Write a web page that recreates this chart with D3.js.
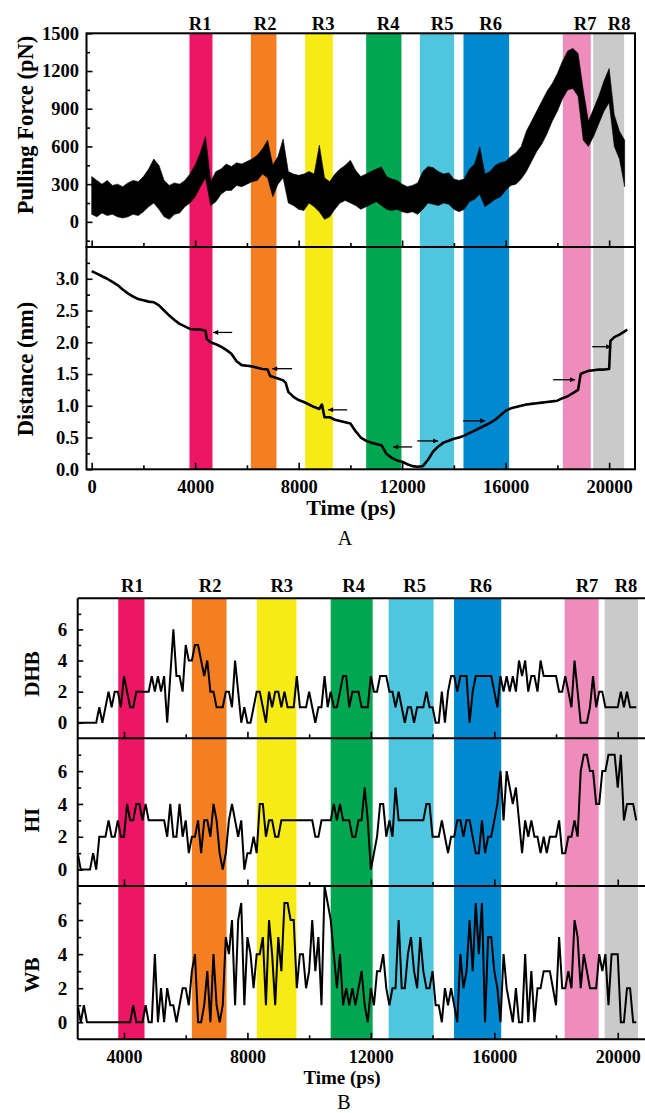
<!DOCTYPE html>
<html><head><meta charset="utf-8">
<script src="https://cdn.jsdelivr.net/npm/d3@7"></script>
<style>
body{margin:0;background:#fff}
svg{display:block}
text{font-family:"Liberation Serif","Times New Roman",serif;font-weight:bold;fill:#000}
</style>
</head><body>
<svg id="c" width="645" height="1113"></svg>
<script>
// ---------------- DATA ----------------
const regionNames = ["R1","R2","R3","R4","R5","R6","R7","R8"];
const regionColors = ["#ED1566","#F47F22","#F6EB14","#00A651","#4FC5DE","#0089CF","#EE8DBC","#CACACA"];
// Panel A region bands (ps)
const bandStartA = [3780,6153,8251,10609,12684,14370,18211,19382];
const bandEndA   = [4669,7142,9322,11973,14010,16135,19292,20580];
const labelTimeA = [4193,6705,8947,11459,13546,15420,19072,20386];
// Panel B region bands (ps)
const bandStartB = [3814,6200,8304,10698,12576,14693,18279,19575];
const bandEndB   = [4665,7323,9589,12058,14032,16224,19380,20655];
const labelTimeB = [4272,6790,9113,11443,13417,15560,19006,20268];

// Pulling force trace envelope, every 200 ps from 0 to 20600 (pN)
const forceTime = d3.range(0, 20601, 200);
const forceLow = [60,40,70,50,60,40,30,40,60,50,
  80,120,150,100,40,20,60,70,120,150,
  200,280,350,130,160,220,250,250,290,280,
  300,320,330,380,350,200,300,350,150,130,
  100,90,150,120,80,20,40,100,150,170,
  150,130,100,120,140,160,130,100,90,100,
  80,70,80,60,100,150,140,130,150,140,
  100,80,100,160,180,220,120,150,180,200,
  250,290,300,340,400,480,560,620,700,800,
  880,980,1050,1060,1000,650,600,680,780,880,
  950,600,500,280];
const forceHigh = [360,330,300,330,290,300,280,310,330,320,
  360,420,500,450,330,290,310,300,330,380,
  450,550,680,320,400,420,460,440,470,460,
  480,500,530,580,650,450,520,660,400,380,
  370,380,400,380,610,350,320,380,420,450,
  490,410,360,380,400,420,437,360,340,330,
  300,280,290,310,400,440,430,400,380,390,
  340,330,340,420,460,597,380,400,450,470,
  480,520,550,600,720,800,880,960,1040,1100,
  1180,1280,1360,1380,1340,1050,800,900,1000,1120,
  1220,850,720,650];

// Distance trace (nm)
const distTime = [0,200,400,600,800,1000,1200,1400,1600,1800,2000,2200,2400,2600,2800,3000,3200,3400,3600,3800,4000,4200,4400,4450,
  4600,4800,5000,5200,5400,5600,5800,6000,6200,6400,6600,6800,6900,7200,7400,7500,7600,7800,8000,8200,8400,8600,8800,8900,
  9000,9200,9400,9600,9800,10000,10200,10400,10600,10800,11000,11200,11400,11600,11800,12000,12200,12400,12600,12800,13000,
  13200,13400,13600,13800,14000,14200,14400,14600,14800,15000,15200,15400,15600,15800,16000,16200,16400,16600,16800,17000,
  17200,17400,17600,17800,18000,18200,18400,18600,18800,18900,19000,19200,19400,19600,19800,20000,20050,20200,20400,20600,20700];
const distValue = [3.12,3.08,3.04,3.0,2.95,2.9,2.83,2.77,2.72,2.68,2.66,2.64,2.63,2.58,2.5,2.42,2.35,2.29,2.25,2.21,2.2,2.2,2.18,2.05,
  2.0,1.97,1.93,1.88,1.82,1.7,1.64,1.63,1.62,1.6,1.58,1.57,1.47,1.43,1.4,1.36,1.22,1.14,1.09,1.06,1.02,0.98,0.95,1.02,
  0.82,0.82,0.78,0.76,0.74,0.72,0.6,0.5,0.45,0.42,0.4,0.38,0.24,0.18,0.14,0.12,0.08,0.05,0.04,0.05,0.15,
  0.28,0.36,0.42,0.45,0.48,0.5,0.53,0.57,0.61,0.65,0.69,0.73,0.78,0.85,0.92,0.96,0.98,1.0,1.02,1.03,
  1.04,1.05,1.06,1.07,1.08,1.12,1.15,1.2,1.25,1.5,1.52,1.55,1.56,1.57,1.57,1.58,2.02,2.08,2.12,2.17,2.2];

// Arrows in the distance panel
const arrowTailTime = [5430,7749,9874,12386,12580,14358,17836,19343];
const arrowTipTime  = [4696,6976,9140,11652,13391,15208,18686,20077];
const arrowDist     = [2.155,1.584,0.936,0.352,0.447,0.763,1.41,1.93];

// Panel B: counts every 100 ps from 2500 to 20600
const timeB = d3.range(2500, 20601, 100);
const dhb = [0,0,0,0,0,0,0,1,0,1,
  2,1,2,2,1,3,2,1,1,2,
  2,2,2,2,3,2,3,2,3,0,
  3,6,3,3,2,5,4,4,5,5,
  4,3,4,2,2,1,1,1,2,2,
  1,4,2,0,1,0,0,1,2,2,
  1,0,2,1,2,2,1,2,1,1,
  1,3,1,1,1,2,1,0,1,1,
  3,1,2,1,1,2,3,3,1,2,
  2,2,1,1,1,3,2,2,3,3,
  3,2,2,1,2,1,0,1,1,0,
  1,1,1,2,1,1,0,0,2,0,
  2,3,3,2,3,3,3,0,2,3,
  3,3,3,3,3,2,1,3,2,3,
  2,3,2,4,3,4,2,3,3,2,
  4,3,3,3,3,3,2,2,3,2,
  1,4,2,0,0,0,1,3,1,2,
  2,1,1,1,1,1,2,1,2,1,
  1,1];
const hi = [1,0,0,0,0,1,0,2,2,2,
  3,2,2,3,2,2,4,3,3,4,
  4,3,4,3,3,3,3,3,3,2,
  4,2,2,4,2,3,1,2,2,3,
  1,3,3,2,4,3,1,0,1,3,
  4,3,2,3,0,1,1,2,1,4,
  4,2,3,3,2,2,3,3,3,3,
  3,3,3,3,3,3,3,2,2,3,
  3,3,3,4,3,4,3,3,3,2,
  2,3,3,5,3,0,1,2,4,4,
  2,3,2,5,3,3,3,3,3,3,
  3,3,3,4,4,2,2,2,3,2,
  1,2,2,3,3,2,3,3,2,1,
  1,3,1,2,2,3,4,6,3,6,
  5,4,5,3,1,3,2,3,2,2,
  1,2,1,2,2,2,3,1,1,2,
  2,3,2,6,7,7,6,6,4,4,
  6,6,7,7,7,5,7,3,4,4,
  4,3];
const wb = [1,0,1,0,0,0,0,0,0,0,
  0,0,0,0,0,0,0,0,1,0,
  0,0,1,0,0,4,0,2,0,2,
  1,1,0,1,2,2,1,3,4,0,
  0,1,3,0,4,1,0,1,5,4,
  6,1,6,7,1,5,4,2,4,4,
  5,1,6,4,1,5,3,7,7,6,
  6,2,4,4,2,3,6,3,5,1,
  8,7,6,4,2,4,1,2,1,2,
  1,2,3,1,0,2,1,3,3,4,
  2,1,2,2,6,2,2,4,5,3,
  2,5,3,2,2,3,1,1,0,2,
  1,2,1,0,4,2,3,6,3,7,
  4,7,0,5,5,3,2,0,4,2,
  1,0,2,0,0,4,0,3,0,2,
  2,3,3,3,2,1,5,2,2,3,
  2,6,5,2,4,3,2,2,2,4,
  3,4,1,4,4,4,0,0,2,2,
  0,0];

// tick values
const xTicksA = [0,4000,8000,12000,16000,20000];
const xMinorA = [2000,6000,10000,14000,18000];
const forceTicks = [0,300,600,900,1200,1500];
const forceMinor = [-150,150,450,750,1050,1350];
const distTicks = [0,0.5,1.0,1.5,2.0,2.5,3.0];
const distMinor = [0.25,0.75,1.25,1.75,2.25,2.75,3.25];
const xTicksB = [4000,8000,12000,16000,20000];
const xMinorB = [6000,10000,14000,18000];
const countTicks = [0,2,4,6];
const countMinor = [1,3,5,7];

// ---------------- DRAW ----------------
const svg = d3.select("#c");
svg.append("rect").attr("width",645).attr("height",1113).attr("fill","#fff");

// ===== Panel A =====
const xA = d3.scaleLinear().domain([-200,21000]).range([86.5,635]);
const yF = d3.scaleLinear().domain([-200,1500]).range([247,33.3]);
const yD = d3.scaleLinear().domain([0,3.5]).range([469.3,247]);

const gA = svg.append("g");
regionNames.forEach((n,i)=>{
  gA.append("rect").attr("x",xA(bandStartA[i])).attr("width",xA(bandEndA[i])-xA(bandStartA[i]))
    .attr("y",yF.range()[1]).attr("height",yD.range()[0]-yF.range()[1]).attr("fill",regionColors[i]);
  gA.append("text").attr("x",xA(labelTimeA[i])).attr("y",29.5).attr("text-anchor","middle")
    .style("font-size","18.5px").text(n);
});

// force trace
gA.append("path")
  .attr("d", d3.area().x((d,i)=>xA(forceTime[i])).y0((d,i)=>yF(forceLow[i])).y1((d,i)=>yF(forceHigh[i]))(forceTime))
  .attr("fill","#000").attr("stroke","#000").attr("stroke-width",0.6);

// distance trace
gA.append("path")
  .attr("d", d3.line().x((d,i)=>xA(distTime[i])).y((d,i)=>yD(distValue[i]))(distTime))
  .attr("fill","none").attr("stroke","#000").attr("stroke-width",2.6).attr("stroke-linejoin","round");

// arrows
svg.append("defs").append("marker").attr("id","ah").attr("viewBox","0 0 10 10")
  .attr("refX",10).attr("refY",5).attr("markerWidth",7).attr("markerHeight",5)
  .attr("markerUnits","userSpaceOnUse").attr("orient","auto")
  .append("path").attr("d","M0,0L10,5L0,10Z").attr("fill","#000");
arrowTipTime.forEach((t,i)=>{
  gA.append("line").attr("x1",xA(arrowTailTime[i])).attr("x2",xA(t))
    .attr("y1",yD(arrowDist[i])).attr("y2",yD(arrowDist[i]))
    .attr("stroke","#000").attr("stroke-width",1.3).attr("marker-end","url(#ah)");
});

function styleAxis(g, fs){
  g.select(".domain").remove();
  g.selectAll(".tick line").attr("stroke","#000").attr("stroke-width",1.6);
  g.selectAll("text").style("font-size",fs).attr("fill","#000");
}
// left axes
const aF = gA.append("g").attr("transform",`translate(${xA.range()[0]},0)`)
  .call(d3.axisLeft(yF).tickValues(forceTicks).tickSize(-6).tickPadding(7.5).tickFormat(d3.format("d")));
styleAxis(aF,"18.5px");
const aFm = gA.append("g").attr("transform",`translate(${xA.range()[0]},0)`)
  .call(d3.axisLeft(yF).tickValues(forceMinor).tickSize(-3.5).tickFormat(""));
styleAxis(aFm,"1px");
const aD = gA.append("g").attr("transform",`translate(${xA.range()[0]},0)`)
  .call(d3.axisLeft(yD).tickValues(distTicks).tickSize(-6).tickPadding(7.5).tickFormat(d3.format(".1f")));
styleAxis(aD,"18.5px");
const aDm = gA.append("g").attr("transform",`translate(${xA.range()[0]},0)`)
  .call(d3.axisLeft(yD).tickValues(distMinor).tickSize(-3.5).tickFormat(""));
styleAxis(aDm,"1px");
// bottom axes (ticks on both sub-panel bottoms)
[yF.range()[0], yD.range()[0]].forEach((yy,k)=>{
  const g1 = gA.append("g").attr("transform",`translate(0,${yy})`)
    .call(d3.axisBottom(xA).tickValues(xTicksA).tickSize(-6.5).tickFormat(k===1?d3.format("d"):""));
  styleAxis(g1,"18.5px");
  g1.selectAll("text").attr("y",24).attr("dy",0);
  const g2 = gA.append("g").attr("transform",`translate(0,${yy})`)
    .call(d3.axisBottom(xA).tickValues(xMinorA).tickSize(-4).tickFormat(""));
  styleAxis(g2,"1px");
});
// frames
gA.append("rect").attr("x",xA.range()[0]).attr("y",yF.range()[1]).attr("width",xA.range()[1]-xA.range()[0])
  .attr("height",yF.range()[0]-yF.range()[1]).attr("fill","none").attr("stroke","#000").attr("stroke-width",2);
gA.append("rect").attr("x",xA.range()[0]).attr("y",yD.range()[1]).attr("width",xA.range()[1]-xA.range()[0])
  .attr("height",yD.range()[0]-yD.range()[1]).attr("fill","none").attr("stroke","#000").attr("stroke-width",2);
// titles
gA.append("text").attr("transform","translate(33,125) rotate(-90)").attr("text-anchor","middle")
  .style("font-size","22.5px").text("Pulling Force (pN)");
gA.append("text").attr("transform","translate(33,369) rotate(-90)").attr("text-anchor","middle")
  .style("font-size","22.5px").text("Distance (nm)");
gA.append("text").attr("x",351).attr("y",515).attr("text-anchor","middle").style("font-size","22px").text("Time (ps)");
gA.append("text").attr("x",345).attr("y",545).attr("text-anchor","middle").style("font-size","20px")
  .style("font-weight","normal").text("A");

// ===== Panel B =====
const xB = d3.scaleLinear().domain([2500,21000]).range([77.7,648.6]);
const yDHB = d3.scaleLinear().domain([-1,8]).range([738.3,598.3]);
const yHI  = d3.scaleLinear().domain([-1,8]).range([886,738.3]);
const yWB  = d3.scaleLinear().domain([-1,8]).range([1039.3,886]);
const gB = svg.append("g");
regionNames.forEach((n,i)=>{
  gB.append("rect").attr("x",xB(bandStartB[i])).attr("width",xB(bandEndB[i])-xB(bandStartB[i]))
    .attr("y",yDHB.range()[1]).attr("height",yWB.range()[0]-yDHB.range()[1]).attr("fill",regionColors[i]);
  gB.append("text").attr("x",xB(labelTimeB[i])).attr("y",592).attr("text-anchor","middle")
    .style("font-size","18.5px").text(n);
});
const panelsB = [
  {y:yDHB, v:dhb, name:"DHB", ly:674},
  {y:yHI, v:hi, name:"HI", ly:820},
  {y:yWB, v:wb, name:"WB", ly:975}
];
panelsB.forEach((p,k)=>{
  gB.append("path")
    .attr("d", d3.line().x((d,i)=>xB(timeB[i])).y(d=>p.y(d))(p.v))
    .attr("fill","none").attr("stroke","#000").attr("stroke-width",2).attr("stroke-linejoin","miter").attr("stroke-miterlimit",3);
  const ax = gB.append("g").attr("transform",`translate(${xB.range()[0]},0)`)
    .call(d3.axisLeft(p.y).tickValues(countTicks).tickSize(-5.5).tickPadding(10.5).tickFormat(d3.format("d")));
  styleAxis(ax,"19px");
  const axm = gB.append("g").attr("transform",`translate(${xB.range()[0]},0)`)
    .call(d3.axisLeft(p.y).tickValues(countMinor).tickSize(-3.5).tickFormat(""));
  styleAxis(axm,"1px");
  const yy = p.y.range()[0];
  const bx = gB.append("g").attr("transform",`translate(0,${yy})`)
    .call(d3.axisBottom(xB).tickValues(xTicksB).tickSize(-6.5).tickFormat(k===2?d3.format("d"):""));
  styleAxis(bx,"18px");
  bx.selectAll("text").attr("y",23.5).attr("dy",0);
  const bxm = gB.append("g").attr("transform",`translate(0,${yy})`)
    .call(d3.axisBottom(xB).tickValues(xMinorB).tickSize(-4).tickFormat(""));
  styleAxis(bxm,"1px");
  gB.append("text").attr("transform",`translate(39,${p.ly}) rotate(-90)`).attr("text-anchor","middle")
    .style("font-size","21px").text(p.name);
});
// frame lines (no right border visible)
[yDHB.range()[1], yDHB.range()[0], yHI.range()[0], yWB.range()[0]].forEach(yy=>{
  gB.append("line").attr("x1",xB.range()[0]).attr("x2",645).attr("y1",yy).attr("y2",yy)
    .attr("stroke","#000").attr("stroke-width",2);
});
gB.append("line").attr("x1",xB.range()[0]).attr("x2",xB.range()[0]).attr("y1",yDHB.range()[1]).attr("y2",yWB.range()[0])
  .attr("stroke","#000").attr("stroke-width",2);
gB.append("text").attr("x",342).attr("y",1084).attr("text-anchor","middle").style("font-size","19px").text("Time (ps)");
gB.append("text").attr("x",344).attr("y",1109).attr("text-anchor","middle").style("font-size","20px")
  .style("font-weight","normal").text("B");
</script>
</body></html>
